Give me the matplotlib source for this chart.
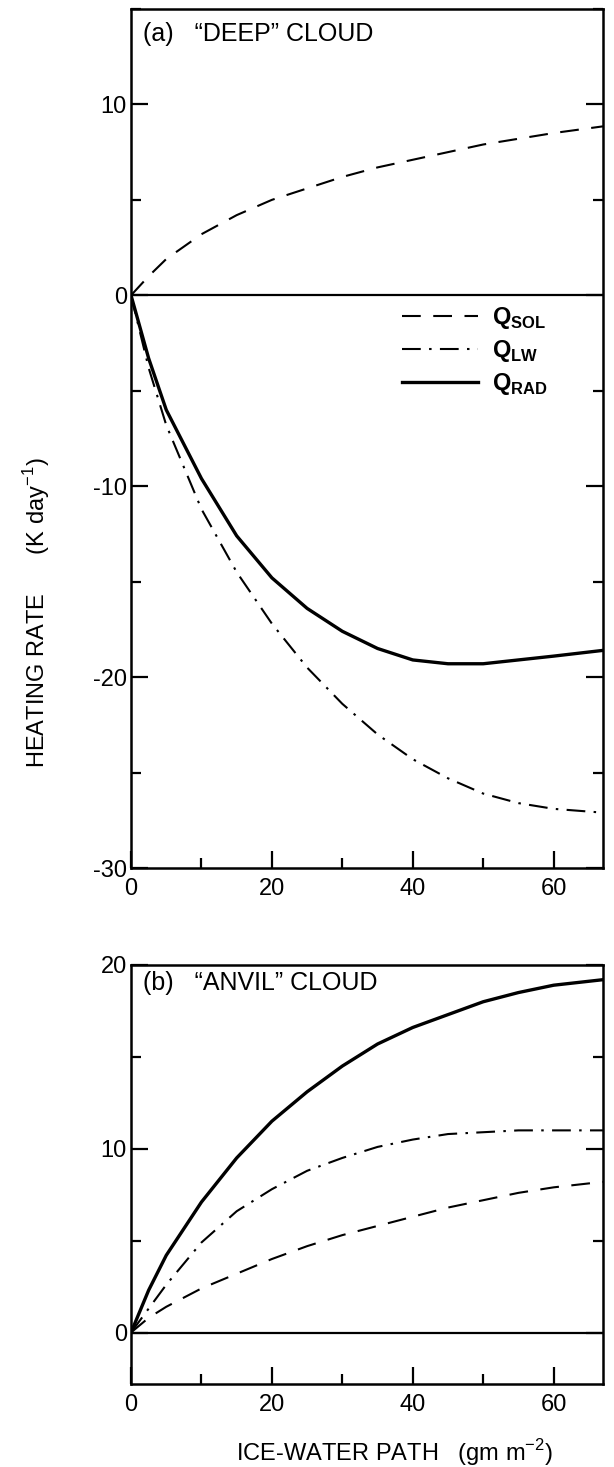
import matplotlib
matplotlib.use("Agg")
import matplotlib.pyplot as plt
from matplotlib.ticker import MultipleLocator

plt.rcParams['font.family'] = ['Liberation Sans', 'DejaVu Sans']
plt.rcParams['axes.unicode_minus'] = False
plt.rcParams['mathtext.fontset'] = 'custom'
plt.rcParams['mathtext.rm'] = 'Liberation Sans'
plt.rcParams['mathtext.bf'] = 'Liberation Sans:bold'

# ---- data (a) "DEEP" cloud ----
x_a = [0, 2.5, 5, 10, 15, 20, 25, 30, 35, 40, 45, 50, 55, 60, 67]
sol_a = [0, 1.0, 1.9, 3.2, 4.2, 5.0, 5.6, 6.2, 6.7, 7.1, 7.5, 7.9, 8.2, 8.5, 8.85]
lw_a = [0, -3.8, -6.8, -11.2, -14.5, -17.2, -19.5, -21.4, -23.0, -24.3, -25.3, -26.1, -26.6, -26.9, -27.1]
rad_a = [0, -3.3, -6.0, -9.6, -12.6, -14.8, -16.4, -17.6, -18.5, -19.1, -19.3, -19.3, -19.1, -18.9, -18.6]

# ---- data (b) "ANVIL" cloud ----
x_b = [0, 2.5, 5, 10, 15, 20, 25, 30, 35, 40, 45, 50, 55, 60, 67]
sol_b = [0, 0.8, 1.4, 2.4, 3.2, 4.0, 4.7, 5.3, 5.8, 6.3, 6.8, 7.2, 7.6, 7.9, 8.2]
lw_b = [0, 1.3, 2.6, 4.9, 6.6, 7.8, 8.8, 9.5, 10.1, 10.5, 10.8, 10.9, 11.0, 11.0, 11.0]
rad_b = [0, 2.3, 4.2, 7.1, 9.5, 11.5, 13.1, 14.5, 15.7, 16.6, 17.3, 18.0, 18.5, 18.9, 19.2]

ticks_x = [0, 20, 40, 60]

fig = plt.figure(figsize=(6.14, 14.67), dpi=100)
ax_a = fig.add_axes([0.2134, 0.4083, 0.7686, 0.5856])
ax_b = fig.add_axes([0.2134, 0.0566, 0.7686, 0.2856])

dash = (0, (9, 6))
dashdot = (0, (9, 4, 1.2, 4))

title_font = ['Liberation Sans Narrow', 'Liberation Sans', 'DejaVu Sans']

for ax, x, s, l, r, ylim, yt, title in [
    (ax_a, x_a, sol_a, lw_a, rad_a, (-30, 15), [-30, -20, -10, 0, 10], '(a)   \u201cDEEP\u201d CLOUD'),
    (ax_b, x_b, sol_b, lw_b, rad_b, (-2.8, 20), [0, 10, 20], '(b)   \u201cANVIL\u201d CLOUD'),
]:
    ax.axhline(0, color='black', lw=1.6)
    ax.plot(x, s, color='black', lw=1.5, linestyle=dash, label=r'$\mathbf{Q}_{\mathbf{SOL}}$')
    ax.plot(x, l, color='black', lw=1.5, linestyle=dashdot, label=r'$\mathbf{Q}_{\mathbf{LW}}$')
    ax.plot(x, r, color='black', lw=2.4, linestyle='-', label=r'$\mathbf{Q}_{\mathbf{RAD}}$')
    ax.set_xlim(0, 67)
    ax.set_ylim(*ylim)
    ax.set_xticks(ticks_x)
    ax.set_yticks(yt)
    ax.xaxis.set_minor_locator(MultipleLocator(10))
    ax.yaxis.set_minor_locator(MultipleLocator(5))
    ax.tick_params(which='major', direction='in', length=12, width=1.6, labelsize=17,
                   left=True, right=True, bottom=True, top=False)
    ax.tick_params(which='minor', direction='in', length=7, width=1.6,
                   left=True, right=True, bottom=True, top=False)
    ax.tick_params(axis='y', pad=3)
    ax.tick_params(axis='x', pad=7)
    for sp in ax.spines.values():
        sp.set_linewidth(1.8)
    ax.text(0.025, 0.985, title, transform=ax.transAxes, ha='left', va='top',
            fontsize=18, family=title_font)

ax_a.legend(loc='upper left', bbox_to_anchor=(0.53, 0.68), frameon=False,
            fontsize=17, handlelength=3.2, handletextpad=0.6, labelspacing=0.3)

fig.text(0.06, 0.582, 'HEATING RATE      (K day$^{-1}$)', rotation=90,
         ha='center', va='center', fontsize=17)
fig.text(0.643, 0.01, 'ICE-WATER PATH   (gm m$^{-2}$)', ha='center', va='center',
         fontsize=17)

fig.savefig('out.png', dpi=100)
